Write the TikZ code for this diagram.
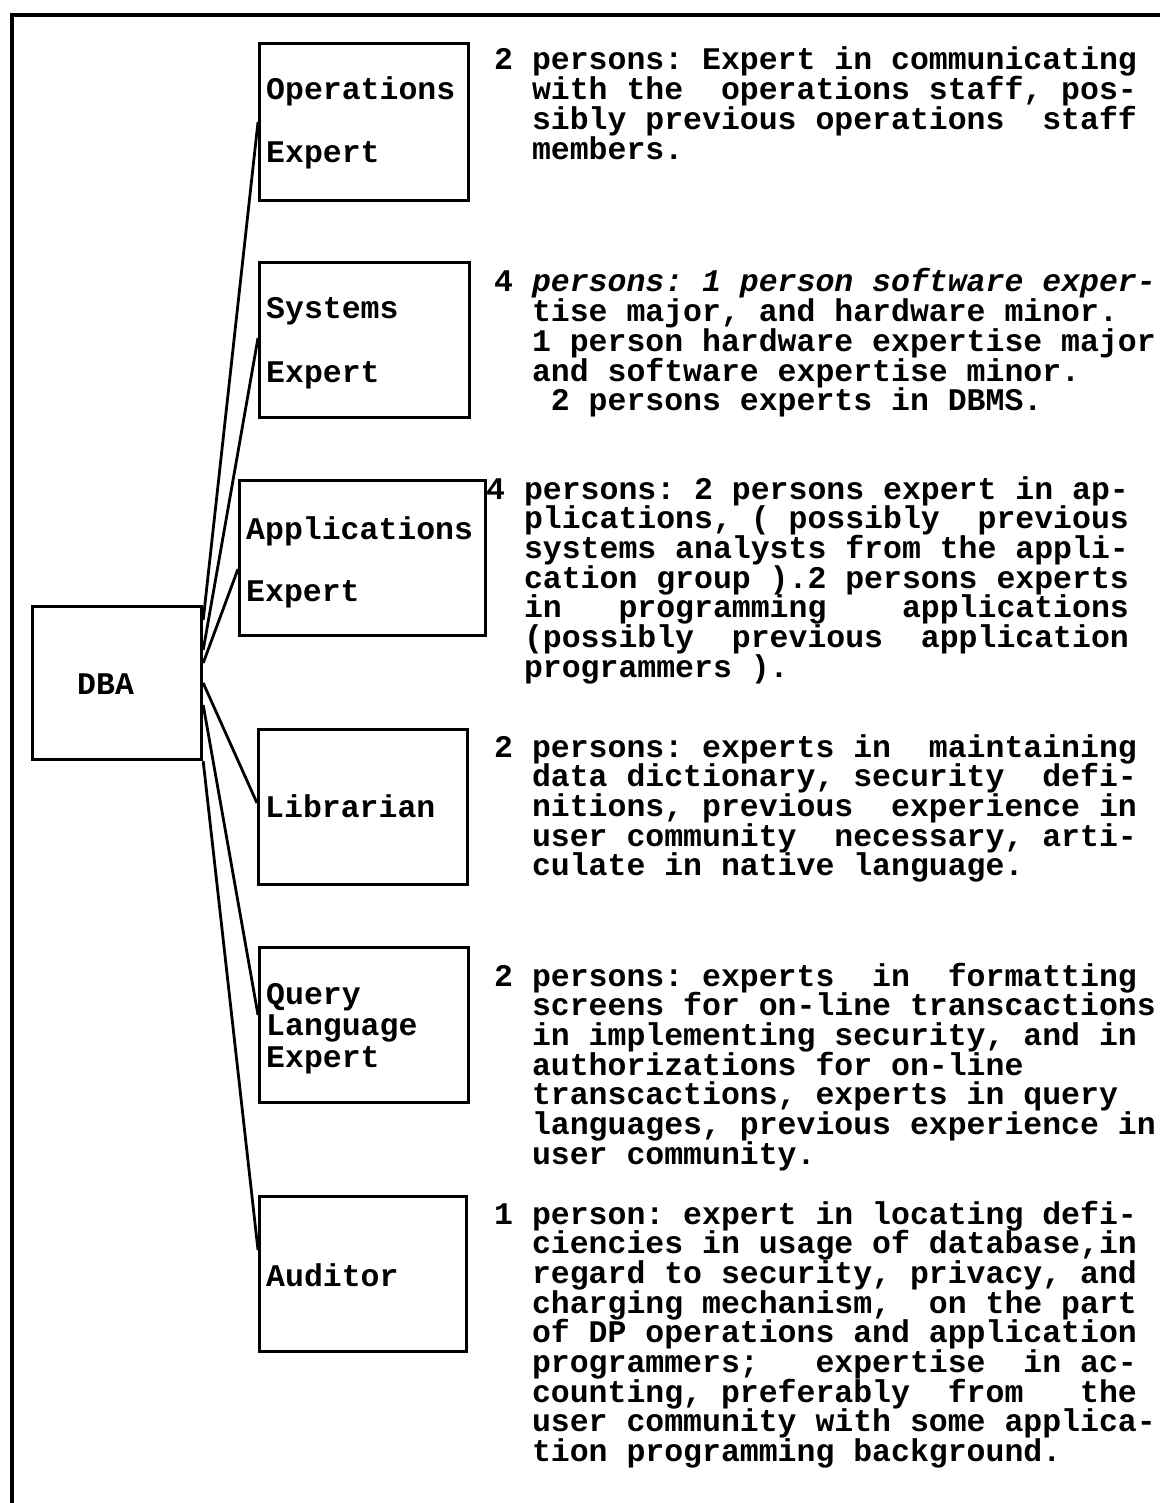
\documentclass[tikz,border=0pt]{standalone}
\usepackage{fontspec}
\newfontfamily\twfont{Liberation Mono}
\newcommand\txtfont{\twfont\bfseries\fontsize{31.5pt}{29.7pt}\selectfont\frenchspacing}
\newcommand\plines[2][29.7pt]{\vtop{\baselineskip=#1\lineskiplimit=-\maxdimen\lineskip=0pt #2}}
\newcommand\txl[1]{\hbox{#1}}
\begin{document}
\begin{tikzpicture}[x=1pt,y=-1pt,
  box/.style={draw, line width=3.2pt, anchor=north west, inner sep=0pt},
  lbl/.style={anchor=base west, inner sep=0pt, font=\txtfont},
  para/.style={anchor=base west, inner sep=0pt, font=\txtfont},
  conn/.style={line width=2.8pt},
  frame/.style={line width=4pt}]
\useasboundingbox (0,0) rectangle (1160,1503);
% frame
\draw[frame] (12,1503) -- (12,15) -- (1160,15);

% boxes
\node[box, minimum width=209pt, minimum height=157pt] (ops) at (258,42) {};
\node[box, minimum width=210pt, minimum height=155pt] (sys) at (258,261) {};
\node[box, minimum width=246pt, minimum height=155pt] (app) at (238,479) {};
\node[box, minimum width=169pt, minimum height=153pt] (dba) at (31,605) {};
\node[box, minimum width=209pt, minimum height=155pt] (lib) at (257,728) {};
\node[box, minimum width=209pt, minimum height=155pt] (qry) at (258,946) {};
\node[box, minimum width=207pt, minimum height=155pt] (aud) at (258,1195) {};

% box labels
\node[lbl] (opsT) at (266,100) {\plines[63pt]{\txl{Operations}\txl{Expert}}};
\node[lbl] (sysT) at (266,319) {\plines[63pt]{\txl{Systems}\txl{Expert}}};
\node[lbl] (appT) at (246,539) {\plines[62pt]{\txl{Applications}\txl{Expert}}};
\node[lbl] (dbaT) at (77,694) {DBA};
\node[lbl] (libT) at (265,817) {Librarian};
\node[lbl] (qryT) at (266,1004) {\plines[31.5pt]{\txl{Query}\txl{Language}\txl{Expert}}};
\node[lbl] (audT) at (266,1286) {Auditor};

% connectors
\draw[conn] ([yshift=-15pt]dba.north east) -- ([yshift=-80pt]ops.north west);
\draw[conn] ([yshift=-45pt]dba.north east) -- ([yshift=-77pt]sys.north west);
\draw[conn] ([yshift=-58pt]dba.north east) -- ([yshift=-90pt]app.north west);
\draw[conn] ([yshift=-78pt]dba.north east) -- ([yshift=-75pt]lib.north west);
\draw[conn] ([yshift=-100pt]dba.north east) -- ([yshift=-69pt]qry.north west);
\draw[conn] (dba.south east) -- ([yshift=-55pt]aud.north west);

% descriptions
\node[para] (p1) at (494,70) {\plines{%
\txl{2 persons: Expert in communicating}%
\txl{~~with the~~operations staff, pos-}%
\txl{~~sibly previous operations~~staff}%
\txl{~~members.}}};

\node[para] (p2) at (494,292) {\plines{%
\txl{4 \itshape persons: 1 person software exper-}%
\txl{~~tise major, and hardware minor.}%
\txl{~~1 person hardware expertise major}%
\txl{~~and software expertise minor.}%
\txl{~~~2 persons experts in DBMS.}}};

\node[para] (p3) at (486,499) {\plines{%
\txl{4 persons: 2 persons expert in ap-}%
\txl{~~plications, ( possibly~~previous}%
\txl{~~systems analysts from the appli-}%
\txl{~~cation group ).2 persons experts}%
\txl{~~in~~~programming~~~~applications}%
\txl{~~(possibly~~previous~~application}%
\txl{~~programmers ).}}};

\node[para] (p4) at (494,757) {\plines{%
\txl{2 persons: experts in~~maintaining}%
\txl{~~data dictionary, security~~defi-}%
\txl{~~nitions, previous~~experience in}%
\txl{~~user community~~necessary, arti-}%
\txl{~~culate in native language.}}};

\node[para] (p5) at (494,986) {\plines{%
\txl{2 persons: experts~~in~~formatting}%
\txl{~~screens for on-line transcactions}%
\txl{~~in implementing security, and in}%
\txl{~~authorizations for on-line}%
\txl{~~transcactions, experts in query}%
\txl{~~languages, previous experience in}%
\txl{~~user community.}}};

\node[para] (p6) at (494,1224) {\plines{%
\txl{1 person: expert in locating defi-}%
\txl{~~ciencies in usage of database,in}%
\txl{~~regard to security, privacy, and}%
\txl{~~charging mechanism,~~on the part}%
\txl{~~of DP operations and application}%
\txl{~~programmers;~~~expertise~~in ac-}%
\txl{~~counting, preferably~~from~~~the}%
\txl{~~user community with some applica-}%
\txl{~~tion programming background.}}};
\end{tikzpicture}
\end{document}
